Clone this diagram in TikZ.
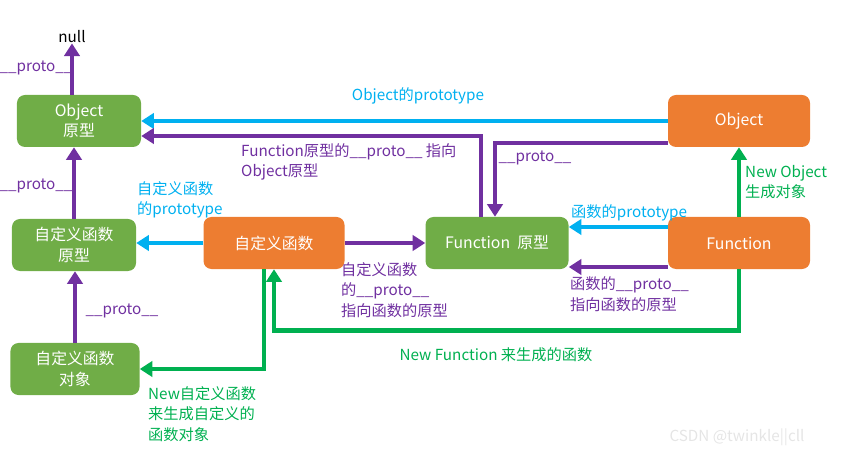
\documentclass[tikz,border=0pt]{standalone}
\usepackage{fontspec}
\setmainfont{Noto Sans CJK SC}
\usepackage{tikz}
\usetikzlibrary{arrows.meta, positioning, calc}
\definecolor{boxgreen}{HTML}{70AD47}
\definecolor{boxorange}{HTML}{ED7D31}
\definecolor{linkcyan}{HTML}{00B0F0}
\definecolor{linkpurple}{HTML}{7030A0}
\definecolor{linkgreen}{HTML}{00B050}

\begin{document}
\begin{tikzpicture}[
    x=0.03cm, y=-0.03cm,
    box/.style={rounded corners=0.24cm, minimum height=1.56cm, align=center,
                text=white, font=\fontsize{13.5}{17.5}\selectfont, inner sep=2pt},
    gbox/.style={box, fill=boxgreen},
    obox/.style={box, fill=boxorange},
    lbl/.style={font=\fontsize{13}{17.5}\selectfont, inner sep=0pt, align=left},
    proto/.style={draw=linkpurple, line width=4.2pt,
                  -{Triangle[length=0.38cm, width=0.46cm]}},
    ptype/.style={proto, draw=linkcyan},
    newarr/.style={proto, draw=linkgreen}
  ]
  \useasboundingbox (0,0) rectangle (845,460);

  % boxes
  \node[gbox, minimum width=3.72cm] (objproto) at (79,121) {Object\\原型};
  \node[gbox, minimum width=3.72cm] (cfproto) at (74,245) {自定义函数\\原型};
  \node[gbox, minimum width=3.87cm] (cfobj) at (75,369) {自定义函数\\对象};
  \node[obox, minimum width=4.23cm] (cf) at (274,243) {自定义函数};
  \node[gbox, minimum width=4.29cm] (fnproto) at (497,243) {Function\ \ 原型};
  \node[obox, minimum width=4.26cm] (obj) at (739,121) {Object};
  \node[obox, minimum width=4.26cm] (fn) at (739,243) {Function};
  \node[lbl] (null) at (72,37) {null};

  % __proto__ chain on the left
  \draw[proto] (objproto.north -| null) -- (null.south);
  \draw[proto] (cfproto.north) -- (cfproto.north |- objproto.south);
  \draw[proto] (cfobj.north) -- (cfobj.north |- cfproto.south);

  % top links
  \draw[ptype] (obj.west) -- (obj.west -| objproto.east);
  \draw[proto] ([xshift=-0.48cm]fnproto.north) |- ([yshift=-0.45cm]objproto.east);
  \draw[proto] ([yshift=-0.66cm]obj.west) -| ([xshift=-0.06cm]fnproto.north);

  % middle row
  \draw[ptype] (cf.west) -- (cf.west -| cfproto.east);
  \draw[proto] (cf.east) -- (cf.east -| fnproto.west);
  \draw[ptype] ([yshift=0.48cm]fn.west) -- ([yshift=0.48cm]fn.west -| fnproto.east);
  \draw[proto] ([yshift=-0.72cm]fn.west) -- ([yshift=-0.72cm]fn.west -| fnproto.east);

  % new ...
  \draw[newarr] (fn.north) -- (obj.south);
  \draw[newarr] (fn.south) -- ++(0,61) -| (cf.south);
  \draw[newarr] ([xshift=-0.3cm]cf.south) |- (cfobj.east);

  % labels
  \node[lbl, text=linkpurple] (l1) at (36,68) {\_\_proto\_\_};
  \node[lbl, text=linkpurple] (l2) at (36,186) {\_\_proto\_\_};
  \node[lbl, text=linkpurple] (l3) at (122,311) {\_\_proto\_\_};
  \node[lbl, text=linkcyan] (l4) at (418,96) {Object的prototype};
  \node[lbl, text=linkpurple, anchor=west] (l5) at (241,162)
    {Function原型的\_\_proto\_\_ 指向\\Object原型};
  \node[lbl, text=linkpurple] (l6) at (535,158) {\_\_proto\_\_};
  \node[lbl, text=linkcyan, anchor=west] (l7) at (137,200) {自定义函数\\的prototype};
  \node[lbl, text=linkpurple, anchor=west] (l8) at (341,290)
    {自定义函数\\的\_\_proto\_\_\\指向函数的原型};
  \node[lbl, text=linkcyan, anchor=west] (l9) at (571,213) {函数的prototype};
  \node[lbl, text=linkpurple, anchor=west] (l10) at (570,294)
    {函数的\_\_proto\_\_\\指向函数的原型};
  \node[lbl, text=linkgreen, anchor=west] (l11) at (745,182) {New Object\\生成对象};
  \node[lbl, text=linkgreen] (l12) at (496,355) {New Function 来生成的函数};
  \node[lbl, text=linkgreen, anchor=west] (l13) at (148,414)
    {New自定义函数\\来生成自定义的\\函数对象};
  \node[lbl, text=black!10] (mark) at (737,437) {CSDN @twinkle||cll};
\end{tikzpicture}
\end{document}
